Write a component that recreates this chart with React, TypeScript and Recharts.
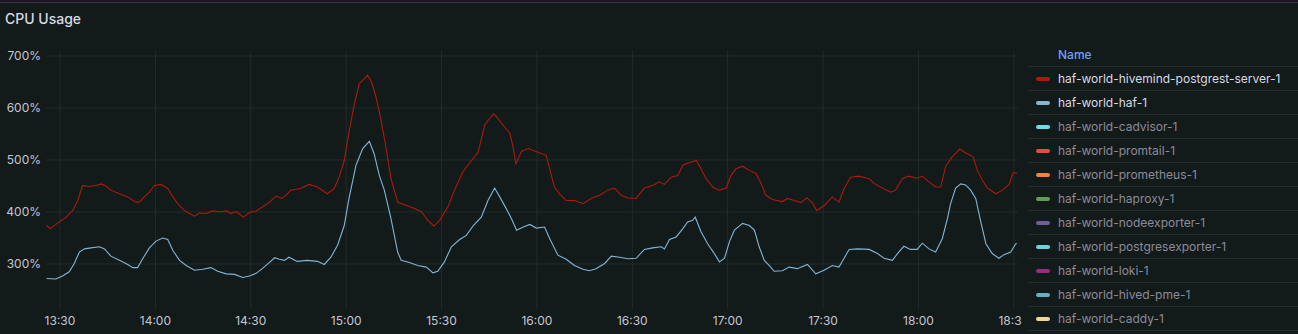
import { LineChart, Line, XAxis, YAxis, CartesianGrid } from 'recharts'

// minutes after 13:30
const hivemindTimes = [
  -4.2, -3.1, -0.2, 1.9, 4, 5.6, 7.1, 9.2, 11.3, 12.9, 14.5, 16, 18.7, 21.3, 23.9, 25, 26.5, 28.1, 29.7, 31.8,
  33.9, 35.5, 37, 39.1, 40.7, 42.3, 43.9, 46, 48, 50.7, 52.3, 53.8, 55.4, 57.7, 59.6, 61.7, 63.8, 65.9, 68, 69.6, 71.1,
  72.5, 75.7, 78.3, 81, 84.1, 86.2, 87.8, 89.4, 90.9, 92.5, 94.1, 95.7, 96.7, 98, 99.4, 100.9, 102.5, 104.1, 106.2, 108.3,
  110.9, 113.6, 115.7, 117.6, 119.4, 122, 124.1, 126.7, 129.4, 131.5, 133.6, 134.6, 136.4, 137.8, 139.9, 141.5, 142.5, 143.4, 145.2, 147.3,
  150.3, 152.9, 154, 155.5, 157.1, 159.2, 161.8, 164.5, 167.1, 169.7, 172.3, 174.4, 176.5, 178.6, 181.2, 183.8, 186.4, 188.5, 190.1, 192.2,
  194.3, 195.9, 198, 200.1, 201.6, 203.2, 205.3, 207.4, 209.5, 211, 212.6, 214.7, 216.8, 218.9, 220.5, 222, 224.1,
  227.2, 228.8, 230.9, 233, 234.9, 236.6, 238, 240.3, 242.9, 245, 246.6, 248.7, 251.3, 254.5, 256, 258.6, 261.3, 262.8, 264.9, 267,
  269.6, 271.2, 273.3, 275.4, 277, 278.5, 280.6, 283, 284.8, 287.2, 288.5, 290.1, 291.7, 294.3, 296.4, 298.5, 299.8, 301,
]
const hivemindValues = [
  374, 368, 381, 390, 403, 422, 451, 449, 451, 454, 450, 442, 435, 429, 419, 419, 429, 438, 451, 453,
  445, 429, 416, 403, 397, 392, 398, 397, 402, 400, 402, 397, 401, 390, 399, 402, 410, 419, 431, 426, 432,
  442, 445, 453, 448, 435, 445, 467, 499, 554, 605, 647, 656, 663, 650, 621, 579, 525, 464, 419, 414,
  408, 401, 384, 373, 384, 410, 442, 477, 499, 515, 567, 576, 589, 579, 563, 551, 525, 493, 517, 522,
  515, 509, 483, 448, 435, 422, 422, 416, 426, 432, 442, 446, 432, 427, 426, 446, 451, 458, 453, 467,
  470, 490, 495, 499, 483, 464, 448, 442, 446, 470, 483, 488, 480, 474, 455, 432, 424,
  420, 426, 422, 418, 427, 418, 403, 412, 429, 419, 445, 467, 469, 464, 455, 446, 438, 442, 464, 469,
  465, 469, 458, 448, 448, 487, 506, 521, 514, 506, 480, 461, 446, 435, 442, 453, 476, 474,
]

const hafTimes = [
  -4.2, -1.3, 0.8, 2.9, 4.5, 6.1, 7.7, 9.8, 12.4, 14, 16, 18.7, 21.3, 22.9, 24.4, 26, 28.1, 30.2, 32.3, 33.9,
  35.5, 37.6, 39.7, 42.3, 44.9, 47.5, 49.6, 52.3, 54.9, 57.5, 59.6, 61.7, 63.8, 65.9, 67.5, 69, 70.6,
  72, 74.6, 77.8, 81, 83.1, 85.2, 87.3, 89.4, 90.9, 93.1, 95.2, 97.3, 98.8, 100.4, 102, 104.1, 106.2, 107.3, 109.9, 112.5,
  115.2, 117.3, 118.8, 120.9, 123.1, 125.7, 127.8, 130, 132.5, 134.6, 136.7, 138.3, 140.4, 142, 143.6, 145.7, 147.8,
  149.8, 152.4, 154, 156.6, 159.2, 161.8, 164.5, 166.5, 168.6, 171.3, 173.4, 176, 178.6, 181.2, 183.8, 186.4, 189.1, 190.1, 191.7, 193.8,
  195.9, 197.4, 199, 199.8, 201.6, 203.7, 205.8, 207.4, 209, 210.5, 212.1, 214.7, 216.8, 218.4, 219.9, 221.5, 223.1, 224.6,
  227.2, 229.3, 231.9, 235.1, 237.7, 240.3, 242.9, 245, 248.2, 250.8, 254.5, 257.1, 259.2, 261.8, 263.4, 265.4, 267.5, 269.6, 271.2, 273.3,
  275.4, 277.5, 279.1, 280.1, 281.7, 283.3, 284.8, 286.4, 288, 289.6, 291.2, 293.2, 295.3, 296.9, 299, 300.6, 301,
]
const hafValues = [
  272, 271, 277, 285, 301, 323, 329, 331, 333, 329, 315, 307, 299, 293, 293, 310, 331, 344, 350, 347,
  326, 307, 297, 288, 290, 293, 286, 281, 280, 274, 277, 282, 292, 303, 312, 309, 307,
  313, 305, 307, 305, 299, 313, 336, 374, 426, 490, 522, 536, 512, 471, 442, 387, 323, 307, 303, 297,
  294, 283, 286, 304, 333, 347, 355, 374, 390, 422, 446, 429, 406, 387, 365, 371, 376,
  369, 371, 349, 317, 309, 297, 290, 287, 291, 301, 315, 313, 310, 311, 328, 331, 333, 329, 347, 352,
  368, 381, 384, 390, 362, 339, 320, 304, 311, 342, 365, 378, 374, 365, 333, 307, 297, 286,
  287, 294, 291, 299, 281, 288, 297, 294, 328, 329, 328, 320, 311, 307, 320, 334, 328, 328, 340, 329,
  323, 349, 387, 416, 446, 454, 452, 442, 426, 381, 339, 320, 311, 318, 323, 339, 339,
]

const xTicks = [0, 30, 60, 90, 120, 150, 180, 210, 240, 270, 300]
const yTicks = [300, 400, 500, 600, 700]

const legendNames = [
  'haf-world-hivemind-postgrest-server-1',
  'haf-world-haf-1',
  'haf-world-cadvisor-1',
  'haf-world-promtail-1',
  'haf-world-prometheus-1',
  'haf-world-haproxy-1',
  'haf-world-nodeexporter-1',
  'haf-world-postgresexporter-1',
  'haf-world-loki-1',
  'haf-world-hived-pme-1',
  'haf-world-caddy-1',
]
const legendColors = [
  '#ad1a0d', '#82b5d8', '#70dbed', '#e24d42', '#ef843c', '#629e51',
  '#705da0', '#6ed0e0', '#962d82', '#64b0c8', '#f4d598',
]

const hivemindData = hivemindTimes.map((t, i) => ({ t, v: hivemindValues[i] }))
const hafData = hafTimes.map((t, i) => ({ t, v: hafValues[i] }))

const fmtTime = (m: number) => {
  const total = 13 * 60 + 30 + m
  const h = Math.floor(total / 60)
  const mm = total % 60
  return `${h}:${mm < 10 ? '0' : ''}${mm}`
}

const FONT = 'Inter, "Noto Sans", sans-serif'

export default function App() {
  return (
    <div style={{ position: 'relative', width: 1298, height: 334, background: '#121a1a', overflow: 'hidden', fontFamily: FONT }}>
      <style>{`body{margin:0}`}</style>
      <div style={{ position: 'absolute', left: 0, top: 0, width: 1298, height: 2, background: '#1d1724', borderBottom: '1px solid #3a3145' }} />
      <div style={{ position: 'absolute', left: 5, top: 10, fontSize: 14, lineHeight: '18px', fontWeight: 500, color: '#d8d9e4' }}>
        CPU Usage
      </div>

      <div style={{ position: 'absolute', left: 0, top: 0 }}>
        <LineChart width={1022} height={334} margin={{ top: 51, right: 4, bottom: 0, left: 0 }} style={{ overflow: 'visible' }}>
          <CartesianGrid stroke="#222c2b" horizontalValues={yTicks} verticalValues={xTicks} />
          <XAxis
            type="number"
            dataKey="t"
            domain={[-4.4, 301.3]}
            ticks={xTicks}
            interval={0}
            tickFormatter={fmtTime}
            allowDataOverflow
            axisLine={false}
            tickLine={false}
            tickSize={0}
            tickMargin={7}
            height={25}
            tick={{ fill: '#c7c6d3', fontSize: 12, fontFamily: FONT }}
          />
          <YAxis
            type="number"
            domain={[213.4, 709.6]}
            ticks={yTicks}
            interval={0}
            tickFormatter={(v: number) => `${v}%`}
            allowDataOverflow
            axisLine={false}
            tickLine={false}
            tickSize={0}
            tickMargin={5}
            width={46}
            tick={{ fill: '#c7c6d3', fontSize: 12, fontFamily: FONT }}
          />
          <Line data={hivemindData} dataKey="v" type="linear" stroke={legendColors[0]} strokeWidth={1.1} dot={false} isAnimationActive={false} />
          <Line data={hafData} dataKey="v" type="linear" stroke={legendColors[1]} strokeWidth={1.1} dot={false} isAnimationActive={false} />
        </LineChart>
      </div>

      <div style={{ position: 'absolute', left: 1028, top: 43, width: 270, height: 291, background: '#121a1a', zIndex: 2 }}>
        <div style={{ height: 23, borderBottom: '1px solid #2e2837', paddingLeft: 30, fontSize: 12, lineHeight: '23px', color: '#6e9fff', fontWeight: 500 }}>
          Name
        </div>
        {legendNames.map((name, i) => (
          <div key={name} style={{ height: 23, borderBottom: '1px solid #2e2837', display: 'flex', alignItems: 'center' }}>
            <div style={{ width: 14, height: 4, borderRadius: 2, background: legendColors[i], marginLeft: 8, marginRight: 8 }} />
            <span style={{ fontSize: 12, color: i < 2 ? '#d8d9e4' : '#8d8b99', whiteSpace: 'nowrap' }}>{name}</span>
          </div>
        ))}
      </div>
    </div>
  )
}
